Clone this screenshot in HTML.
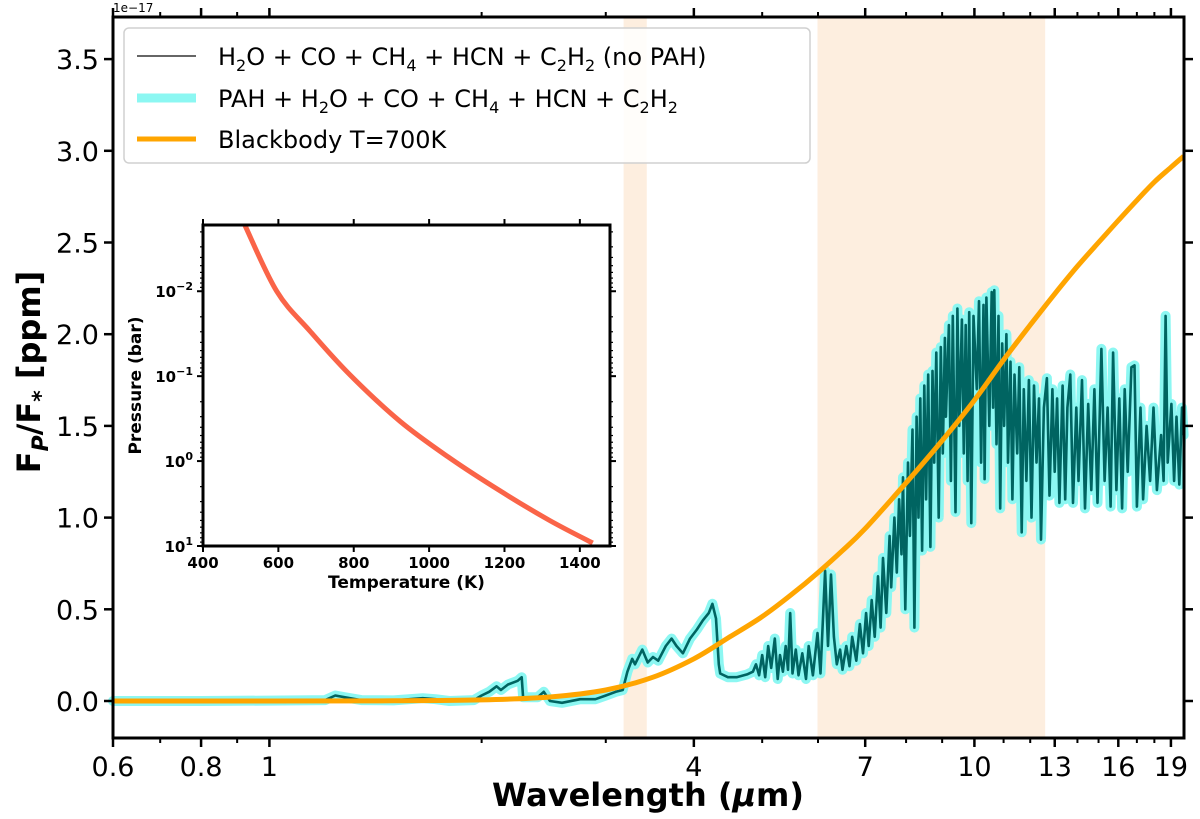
<!DOCTYPE html>
<html><head><meta charset="utf-8"><style>
html,body{margin:0;padding:0;background:#fff;}
svg{display:block;font-family:"DejaVu Sans","Liberation Sans",sans-serif;}
</style></head><body>
<svg id="chart" width="1200" height="819" viewBox="0 0 1200 819" xmlns="http://www.w3.org/2000/svg">
<g id="bands"></g>
<g id="series"></g>
<g id="axes"></g>
<g id="inset"></g>
<g id="legend"></g>
</svg>
<script>
// ---- main chart data ----
const wavelengths = [0.6,0.8,1.0,1.2,1.24,1.28,1.35,1.5,1.65,1.72,1.8,1.95,2.0,2.05,2.1,2.13,2.18,2.25,2.28,2.29,2.4,2.45,2.5,2.6,2.76,2.9,3.0,3.1,3.17,3.22,3.27,3.3,3.38,3.44,3.5,3.56,3.65,3.72,3.78,3.86,3.95,4.04,4.12,4.2,4.25,4.3,4.34,4.36,4.47,4.6,4.76,4.85,4.9,4.95,5.0,5.05,5.1,5.15,5.21,5.26,5.3,5.35,5.4,5.44,5.48,5.52,5.58,5.63,5.7,5.77,5.82,5.9,5.99,6.05,6.14,6.2,6.26,6.32,6.38,6.45,6.5,6.58,6.65,6.71,6.8,6.88,6.95,7.02,7.08,7.15,7.22,7.3,7.36,7.42,7.5,7.58,7.62,7.7,7.76,7.82,7.88,7.92,7.98,8.05,8.1,8.17,8.22,8.28,8.33,8.38,8.43,8.49,8.54,8.6,8.66,8.72,8.77,8.83,8.9,8.96,9.02,9.08,9.11,9.2,9.26,9.32,9.4,9.46,9.52,9.6,9.66,9.72,9.78,9.83,9.9,9.97,10.08,10.15,10.22,10.3,10.34,10.4,10.5,10.58,10.63,10.67,10.75,10.82,10.88,10.95,11.02,11.1,11.16,11.25,11.32,11.4,11.5,11.58,11.67,11.75,11.85,11.95,12.05,12.15,12.25,12.35,12.43,12.55,12.67,12.78,12.9,13.0,13.1,13.2,13.34,13.45,13.55,13.68,13.8,13.95,14.05,14.21,14.35,14.5,14.65,14.8,14.95,15.14,15.3,15.45,15.6,15.73,15.9,16.05,16.2,16.34,16.5,16.7,16.87,17.0,17.2,17.35,17.55,17.75,17.95,18.15,18.4,18.55,18.67,18.8,19.03,19.2,19.35,19.53,19.7,19.8];
const fluxSpectrum = [0,0,0.002,0.005,0.03,0.02,0.005,0.003,0.015,0.01,0,0.005,0.03,0.05,0.08,0.06,0.09,0.11,0.13,0.02,0.02,0.05,0.0,-0.01,0.01,0.01,0.03,0.05,0.06,0.16,0.23,0.2,0.28,0.21,0.24,0.22,0.3,0.34,0.3,0.26,0.34,0.39,0.44,0.48,0.53,0.45,0.2,0.15,0.13,0.13,0.145,0.16,0.2,0.14,0.25,0.13,0.3,0.18,0.34,0.12,0.25,0.16,0.3,0.17,0.48,0.15,0.28,0.14,0.26,0.12,0.3,0.14,0.37,0.15,0.71,0.3,0.69,0.35,0.2,0.28,0.17,0.3,0.19,0.35,0.22,0.42,0.26,0.48,0.3,0.55,0.35,0.68,0.4,0.78,0.48,0.9,0.62,1.0,0.7,1.1,0.8,1.22,0.5,1.3,0.9,1.48,0.4,1.55,1.0,1.65,0.82,1.72,1.1,1.78,0.84,1.8,1.3,1.9,1.0,1.93,1.35,1.98,1.55,2.05,1.2,2.1,1.03,2.14,1.5,2.08,1.35,2.05,1.2,2.12,0.97,2.1,1.7,2.18,1.3,2.16,1.21,2.2,1.5,2.23,1.6,2.24,1.4,2.1,1.05,1.95,1.5,2.0,1.3,1.85,1.1,1.78,1.35,1.82,0.92,1.7,1.2,1.75,1.0,1.72,1.3,1.65,0.88,1.6,1.76,1.12,1.7,1.25,1.65,1.08,1.72,1.1,1.6,1.78,1.08,1.6,1.2,1.75,1.05,1.62,1.15,1.7,1.08,1.92,1.2,1.6,1.06,1.9,1.15,1.65,1.05,1.7,1.25,1.82,1.83,1.06,1.6,1.1,1.5,1.2,1.6,1.15,1.45,1.2,2.1,1.3,1.62,1.2,1.55,1.18,1.6,1.45];
const bbWavelengths = [0.6,1.0,1.5,2.0,2.5,3.0,3.5,4.0,4.5,5.0,5.5,6.0,6.5,7.0,8.0,9.0,10.0,11.0,12.0,13.0,14.0,15.0,16.0,17.0,18.0,19.0,19.8];
const bbFlux = [0,0,0.001,0.006,0.022,0.06,0.13,0.23,0.35,0.46,0.58,0.70,0.82,0.94,1.19,1.42,1.64,1.86,2.05,2.22,2.37,2.5,2.62,2.73,2.83,2.91,2.97];
const bandRanges = [[3.18,3.43],[5.99,12.6]];
const xMajorTicks = [0.6,0.8,1,4,7,10,13,16,19];
const xMinorTicks = [0.7,0.9,2,3,5,6,8,9,11,12,14,15,17,18];
const yTicks = [0.0,0.5,1.0,1.5,2.0,2.5,3.0,3.5];
// ---- inset data ----
const insetTemps = [511,595.5,684,790,922.5,1055,1188,1320,1434];
const insetPressures = [0.00166,0.01,0.0295,0.0966,0.339,0.923,2.24,5.01,9.23];
const insetXTicks = [400,600,800,1000,1200,1400];
const insetYTicks = [-2,-1,0,1];

const NS="http://www.w3.org/2000/svg";
function mk(tag, parent, attrs){const e=document.createElementNS(NS,tag);for(const k in attrs)e.setAttribute(k,attrs[k]);parent.appendChild(e);return e;}
function smoothPath(pts){
  let d='M'+pts[0][0].toFixed(1)+','+pts[0][1].toFixed(1);
  for(let i=0;i<pts.length-1;i++){
    const p0=pts[i-1]||pts[i],p1=pts[i],p2=pts[i+1],p3=pts[i+2]||p2;
    const c1=[p1[0]+(p2[0]-p0[0])/6,p1[1]+(p2[1]-p0[1])/6];
    const c2=[p2[0]-(p3[0]-p1[0])/6,p2[1]-(p3[1]-p1[1])/6];
    d+='C'+c1[0].toFixed(1)+','+c1[1].toFixed(1)+' '+c2[0].toFixed(1)+','+c2[1].toFixed(1)+' '+p2[0].toFixed(1)+','+p2[1].toFixed(1);
  }
  return d;
}

// main axes geometry
const L=113,R=1184,T=17,B=738;
const X0=Math.log10(0.6), PXD=705;
function xs(l){return L+(Math.log10(l)-X0)*PXD;}
function ys(v){return 701-v*183.4;}

const bands=document.getElementById('bands');
bandRanges.forEach(r=>{
  const rc=mk('rect',bands,{x:xs(r[0]),y:T,width:xs(r[1])-xs(r[0]),height:B-T,fill:'#fdeedf'});
  
  
});

const series=document.getElementById('series');
function pathFrom(xa,ya){return xa.map((x,i)=>(i?'L':'M')+xs(x).toFixed(1)+','+ys(ya[i]).toFixed(1)).join('');}
const sp=pathFrom(wavelengths,fluxSpectrum);
const halo=mk('path',series,{d:sp,fill:'none',stroke:'#8cf7f2','stroke-width':10,'stroke-linejoin':'round','stroke-linecap':'round'});


const dark=mk('path',series,{d:sp,fill:'none',stroke:'#006461','stroke-width':2.6,'stroke-linejoin':'round'});


const bb=mk('path',series,{d:smoothPath(bbWavelengths.map((w,i)=>[xs(w),ys(bbFlux[i])])),fill:'none',stroke:'#ffa500','stroke-width':5,'stroke-linejoin':'round'});



const axes=document.getElementById('axes');
const frame=mk('rect',axes,{x:L,y:T,width:R-L,height:B-T,fill:'none',stroke:'#000','stroke-width':3});


xMajorTicks.forEach(t=>{
  const x=xs(t);
  mk('line',axes,{x1:x,x2:x,y1:B,y2:B+9,stroke:'#000','stroke-width':2.5});
  mk('line',axes,{x1:x,x2:x,y1:T,y2:T-9,stroke:'#000','stroke-width':2.5});
  const tx=mk('text',axes,{x:x,y:B+38,'font-size':27,'text-anchor':'middle',fill:'#000'});
  tx.textContent=String(t);
  
  
});
xMinorTicks.forEach(t=>{
  const x=xs(t);
  mk('line',axes,{x1:x,x2:x,y1:B,y2:B+5,stroke:'#000','stroke-width':2});
  mk('line',axes,{x1:x,x2:x,y1:T,y2:T-5,stroke:'#000','stroke-width':2});
});
yTicks.forEach(t=>{
  const y=ys(t);
  mk('line',axes,{x1:L,x2:L-9,y1:y,y2:y,stroke:'#000','stroke-width':2.5});
  mk('line',axes,{x1:R,x2:R+9,y1:y,y2:y,stroke:'#000','stroke-width':2.5});
  const tx=mk('text',axes,{x:L-14,y:y+10,'font-size':27,'text-anchor':'end',fill:'#000'});
  tx.textContent=t.toFixed(1);
  
  
});
</script>
<script>
(function(){
const axes=document.getElementById('axes');
const off=mk('text',axes,{x:113,y:12,'font-size':12,fill:'#000'});
off.textContent='1e\u221217';


const xl=mk('text',axes,{x:648,y:806,'font-size':32,'font-weight':'bold','text-anchor':'middle',fill:'#000'});
xl.innerHTML='Wavelength (<tspan font-style="italic">\u03bc</tspan>m)';


const yl=mk('text',axes,{x:0,y:0,'font-size':32,'font-weight':'bold','text-anchor':'middle',fill:'#000',transform:'translate(40,372) rotate(-90)'});
yl.innerHTML='F<tspan font-size="22" dy="8" font-style="italic">P</tspan><tspan dy="-8">/F</tspan><tspan font-size="22" dy="8">*</tspan><tspan dy="-8">  [ppm]</tspan>';



// legend
const lg=document.getElementById('legend');
const box=mk('rect',lg,{x:124,y:28,width:686,height:135,rx:5,fill:'rgba(255,255,255,0.85)',stroke:'#d0d0d0','stroke-width':1.5});


const entries=[
 {y:56,stroke:'#333',w:1.5,name:'legend-entry-no-pah',html:'H<tspan font-size="16" dy="6">2</tspan><tspan dy="-6">O + CO + CH</tspan><tspan font-size="16" dy="6">4</tspan><tspan dy="-6"> + HCN + C</tspan><tspan font-size="16" dy="6">2</tspan><tspan dy="-6">H</tspan><tspan font-size="16" dy="6">2</tspan><tspan dy="-6"> (no PAH)</tspan>'},
 {y:98,stroke:'#8cf7f2',w:9,name:'legend-entry-pah',html:'PAH + H<tspan font-size="16" dy="6">2</tspan><tspan dy="-6">O + CO + CH</tspan><tspan font-size="16" dy="6">4</tspan><tspan dy="-6"> + HCN + C</tspan><tspan font-size="16" dy="6">2</tspan><tspan dy="-6">H</tspan><tspan font-size="16" dy="6">2</tspan>'},
 {y:139,stroke:'#ffa500',w:5,name:'legend-entry-blackbody',html:'Blackbody T=700K'}
];
entries.forEach(e=>{
  const g=mk('g',lg,{});
  
  
  mk('line',g,{x1:137,x2:196,y1:e.y,y2:e.y,stroke:e.stroke,'stroke-width':e.w});
  const t=mk('text',g,{x:218,y:e.y+9,'font-size':24,fill:'#000'});
  t.innerHTML=e.html;
});

// inset
const ins=document.getElementById('inset');
const IL=203,IR=610,IT=225,IB=546;
const txs=t=>IL+(t-400)/1080*(IR-IL);
const LT=-2.78,LB=1;
const tys=p=>IT+(Math.log10(p)-LT)/(LB-LT)*(IB-IT);
const bg=mk('rect',ins,{x:IL,y:IT,width:IR-IL,height:IB-IT,fill:'#fff'});


const clip=mk('clipPath',ins,{id:'insclip'});
mk('rect',clip,{x:IL,y:IT,width:IR-IL,height:IB-IT});
const cp=mk('path',ins,{d:smoothPath(insetTemps.map((t,i)=>[txs(t),tys(insetPressures[i])])),fill:'none',stroke:'#fa6448','stroke-width':5,'clip-path':'url(#insclip)'});


const ifr=mk('rect',ins,{x:IL,y:IT,width:IR-IL,height:IB-IT,fill:'none',stroke:'#000','stroke-width':3});


insetXTicks.forEach(t=>{
  const x=txs(t);
  mk('line',ins,{x1:x,x2:x,y1:IB,y2:IB+6,stroke:'#000','stroke-width':2});
  mk('line',ins,{x1:x,x2:x,y1:IT,y2:IT-6,stroke:'#000','stroke-width':2});
  const tx=mk('text',ins,{x:x,y:IB+22,'font-size':15,'font-weight':'bold','text-anchor':'middle',fill:'#000'});
  tx.textContent=String(t);
  
  
});
insetYTicks.forEach(k=>{
  const y=tys(Math.pow(10,k));
  mk('line',ins,{x1:IL,x2:IL-6,y1:y,y2:y,stroke:'#000','stroke-width':2});
  mk('line',ins,{x1:IR,x2:IR+6,y1:y,y2:y,stroke:'#000','stroke-width':2});
  const tx=mk('text',ins,{x:IL-10,y:y+6,'font-size':15,'font-weight':'bold','text-anchor':'end',fill:'#000'});
  tx.innerHTML='10<tspan font-size="11" dy="-7">'+(k<0?'\u2212'+(-k):k)+'</tspan>';
  
  
  if(k<1){for(let m=2;m<=9;m++){const yy=tys(m*Math.pow(10,k));if(yy<IT)continue;
    mk('line',ins,{x1:IL,x2:IL-3,y1:yy,y2:yy,stroke:'#000','stroke-width':1.2});
    mk('line',ins,{x1:IR,x2:IR+3,y1:yy,y2:yy,stroke:'#000','stroke-width':1.2});}}
});
for(let m=2;m<=9;m++){const yy=tys(m*0.001);if(yy<IT)continue;
  mk('line',ins,{x1:IL,x2:IL-3,y1:yy,y2:yy,stroke:'#000','stroke-width':1.2});
  mk('line',ins,{x1:IR,x2:IR+3,y1:yy,y2:yy,stroke:'#000','stroke-width':1.2});}
const ixl=mk('text',ins,{x:(IL+IR)/2,y:IB+42,'font-size':17,'font-weight':'bold','text-anchor':'middle',fill:'#000'});
ixl.textContent='Temperature (K)';


const iyl=mk('text',ins,{x:0,y:0,'font-size':17,'font-weight':'bold','text-anchor':'middle',fill:'#000',transform:'translate(141,'+((IT+IB)/2)+') rotate(-90)'});
iyl.textContent='Pressure (bar)';


})();
</script>
</body></html>
